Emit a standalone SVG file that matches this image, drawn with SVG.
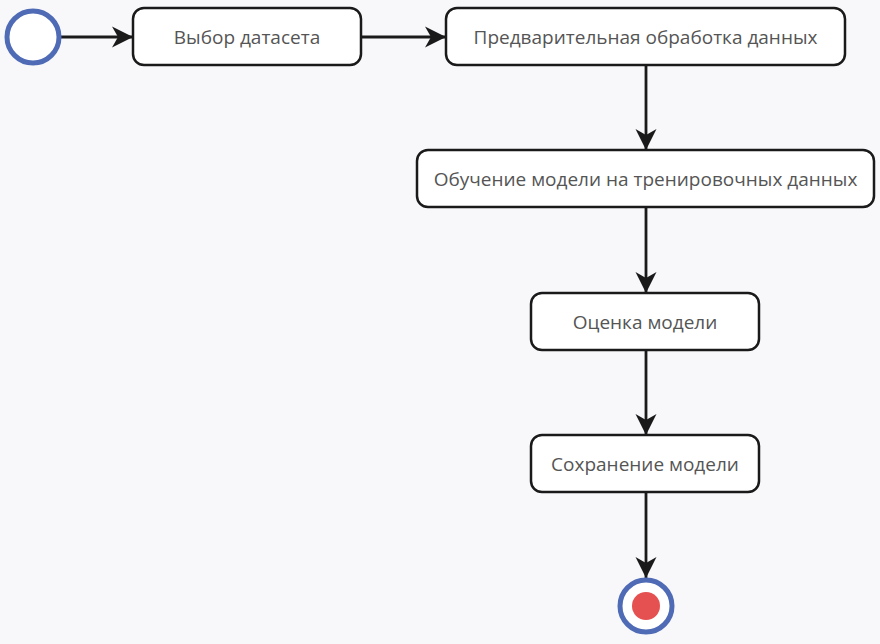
<svg xmlns="http://www.w3.org/2000/svg" width="880" height="644" viewBox="0 0 880 644">
<style>
.node rect{fill:#ffffff;stroke:#1a1a1a;stroke-width:2.5}
.node text{font-family:"Open Sans","Noto Sans",sans-serif;font-size:19px;fill:#555555;text-anchor:middle;dominant-baseline:central}
.edge{stroke:#1a1a1a;stroke-width:2.8;fill:none;marker-end:url(#arr)}
</style>
<defs>
<marker id="arr" markerUnits="userSpaceOnUse" markerWidth="24" markerHeight="24" viewBox="0 0 24 24" refX="22" refY="12" orient="auto">
<path d="M1,1.5 L22,12 L1,22.5 L7,12 Z" fill="#1a1a1a"/>
</marker>
</defs>
<rect width="880" height="644" fill="#f8f8fb"/>
<g id="connectors">
<line class="edge" x1="60" y1="37" x2="133" y2="37"/>
<line class="edge" x1="361" y1="37" x2="446" y2="37"/>
<line class="edge" x1="646" y1="65" x2="646" y2="150"/>
<line class="edge" x1="646" y1="207" x2="646" y2="293"/>
<line class="edge" x1="646" y1="350" x2="646" y2="435"/>
<line class="edge" x1="646" y1="492" x2="646" y2="578"/>
</g>
<g id="start">
<circle cx="33" cy="37" r="26" fill="#ffffff" stroke="#4f6bb5" stroke-width="5"/>
</g>
<g id="n1" class="node">
<rect x="133" y="8" width="228" height="57" rx="11"/>
<text x="247" y="37">Выбор датасета</text>
</g>
<g id="n2" class="node">
<rect x="446" y="8" width="399" height="57" rx="11"/>
<text x="645.5" y="37">Предварительная обработка данных</text>
</g>
<g id="n3" class="node">
<rect x="417" y="150" width="457" height="57" rx="11"/>
<text x="645.5" y="179">Обучение модели на тренировочных данных</text>
</g>
<g id="n4" class="node">
<rect x="531" y="293" width="228" height="57" rx="11"/>
<text x="645" y="322">Оценка модели</text>
</g>
<g id="n5" class="node">
<rect x="531" y="435" width="228" height="57" rx="11"/>
<text x="645" y="464">Сохранение модели</text>
</g>
<g id="end">
<circle cx="646" cy="606" r="26" fill="#ffffff" stroke="#4f6bb5" stroke-width="5"/>
<circle cx="646" cy="606" r="14" fill="#e55050"/>
</g>
</svg>
